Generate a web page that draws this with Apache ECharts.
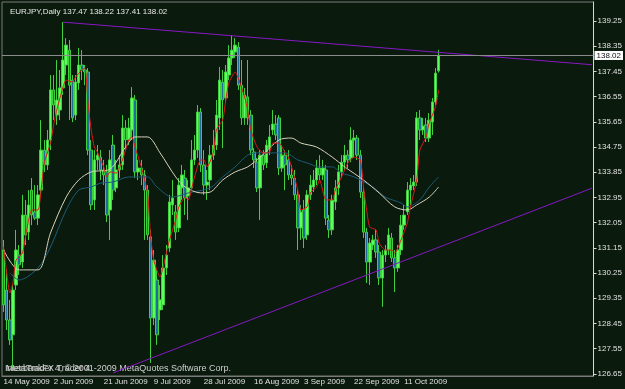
<!DOCTYPE html>
<html>
<head>
<meta charset="utf-8">
<script src="https://cdn.jsdelivr.net/npm/echarts@6/dist/echarts.min.js"></script>
<style>
html, body { margin: 0; padding: 0; background: #0a1a0d; }
#chart { width: 625px; height: 389px; }
</style>
</head>
<body>
<div id="chart"></div>
<script>
var symbolName = 'EURJPY,Daily';
var lastBar = [137.47, 138.22, 137.41, 138.02]; // open high low close
var currentPrice = 138.02;

var dateLabels = ['14 May 2009', '2 Jun 2009', '21 Jun 2009', '9 Jul 2009', '28 Jul 2009',
    '16 Aug 2009', '3 Sep 2009', '22 Sep 2009', '11 Oct 2009'];
var labelStep = 16;
var totalSlots = 189;

var priceTicks = [126.65, 127.55, 128.45, 129.35, 130.25, 131.15, 132.05, 132.95,
    133.85, 134.75, 135.65, 136.55, 137.45, 138.35, 139.25];

// [open, close, low, high]
var candles = [
    [131.07, 129.11, 128.86, 131.43], [129.64, 128.57, 128.21, 130.36], [128.57, 127.86, 127.68, 129.29],
    [128.04, 129.64, 126.89, 129.82], [129.82, 131.07, 129.64, 131.79], [130.89, 130.54, 130.18, 131.25],
    [130.64, 132.32, 130.43, 133.04], [132.32, 131.61, 131.25, 132.86], [131.71, 132.68, 131.43, 133.21],
    [133.21, 132.32, 131.96, 133.64], [132.43, 132.21, 132.14, 133.39], [132.21, 133.04, 131.96, 133.39],
    [133.21, 134.64, 133.04, 135.71], [134.64, 134.11, 133.86, 135.00], [134.11, 135.00, 133.93, 135.36],
    [135.00, 136.79, 134.64, 137.32], [136.79, 136.25, 135.71, 137.32], [135.89, 136.43, 135.54, 137.86],
    [136.07, 136.86, 135.71, 137.50], [136.86, 137.86, 136.61, 139.21], [137.68, 138.39, 137.32, 138.64],
    [138.21, 136.96, 135.71, 138.57], [137.14, 135.79, 135.64, 137.32], [135.89, 137.07, 135.71, 137.32],
    [137.04, 137.68, 136.79, 138.29], [137.68, 137.50, 137.14, 138.21], [137.50, 137.43, 136.96, 137.68],
    [137.43, 134.64, 134.46, 137.57], [134.64, 132.68, 132.50, 135.00], [132.86, 134.29, 132.50, 134.64],
    [134.29, 134.46, 133.93, 134.82], [134.39, 133.93, 133.57, 134.64], [133.93, 133.75, 133.39, 134.29],
    [133.86, 132.32, 132.07, 134.11], [132.50, 134.29, 131.43, 134.64], [134.82, 133.21, 132.86, 135.18],
    [133.29, 133.93, 133.14, 134.29], [133.93, 134.11, 133.64, 134.46], [134.11, 135.43, 133.93, 135.89],
    [135.43, 135.00, 134.64, 135.71], [135.00, 135.43, 134.82, 135.79], [135.36, 136.50, 135.00, 136.89],
    [136.43, 133.86, 133.64, 136.61], [133.86, 134.00, 133.57, 134.29], [134.00, 133.75, 133.39, 134.29],
    [133.75, 133.21, 131.43, 133.93], [133.21, 131.61, 131.43, 133.39], [131.54, 128.64, 127.04, 131.79],
    [128.64, 130.71, 128.39, 131.07], [130.00, 128.04, 127.68, 130.36], [128.93, 129.29, 128.57, 129.82],
    [129.11, 130.43, 128.93, 130.89], [130.43, 130.89, 130.18, 131.25], [131.14, 132.79, 131.00, 133.04],
    [132.68, 132.93, 132.32, 133.57], [132.43, 131.71, 131.43, 132.68], [131.86, 133.39, 131.71, 133.64],
    [133.29, 133.75, 132.86, 134.11], [133.64, 132.93, 132.32, 133.93], [133.00, 133.29, 132.14, 133.57],
    [133.29, 134.29, 133.21, 135.00], [134.29, 134.64, 134.11, 135.18], [134.64, 136.00, 134.36, 136.25],
    [136.00, 134.11, 133.86, 136.14], [134.11, 133.39, 133.04, 134.64], [133.39, 133.50, 132.86, 133.93],
    [133.57, 134.46, 133.21, 134.82], [134.46, 134.82, 134.29, 135.36], [134.82, 135.89, 134.64, 136.43],
    [135.79, 137.14, 135.36, 137.61], [137.07, 136.43, 134.71, 137.50], [136.50, 137.43, 136.36, 137.68],
    [137.32, 137.93, 137.14, 138.39], [137.93, 138.21, 137.68, 138.75], [138.14, 138.39, 137.93, 138.64],
    [138.32, 136.96, 136.79, 138.50], [136.96, 135.79, 135.54, 137.86], [135.79, 136.61, 135.54, 136.86],
    [136.54, 135.79, 135.54, 137.86], [135.89, 134.64, 134.46, 136.07], [134.57, 134.29, 134.00, 134.71],
    [134.21, 133.29, 133.14, 134.36], [133.29, 134.46, 132.14, 134.64], [134.46, 134.11, 133.93, 134.64],
    [134.18, 134.82, 134.00, 135.00], [134.71, 135.11, 134.46, 135.54], [135.36, 135.57, 135.18, 136.07],
    [135.57, 135.18, 135.00, 135.89], [135.79, 134.00, 133.75, 135.89], [134.00, 134.46, 133.86, 134.82],
    [134.46, 134.11, 133.21, 134.64], [134.29, 133.75, 133.57, 134.64], [133.75, 133.64, 133.39, 134.11],
    [133.64, 133.04, 132.86, 133.93], [133.04, 131.86, 131.07, 133.21], [131.86, 132.43, 131.43, 132.68],
    [132.50, 131.50, 131.14, 132.86], [131.61, 133.04, 131.43, 133.21], [133.04, 133.39, 132.86, 133.75],
    [133.32, 133.57, 133.14, 133.93], [133.57, 134.00, 133.39, 134.29], [134.00, 133.75, 133.57, 134.46],
    [133.75, 134.00, 133.57, 134.29], [133.93, 132.21, 131.96, 134.11], [132.14, 131.79, 131.50, 132.32],
    [131.79, 132.86, 131.61, 133.04], [132.79, 133.29, 132.50, 133.57], [133.29, 133.86, 133.04, 134.11],
    [133.86, 134.21, 133.64, 134.46], [134.21, 134.46, 133.93, 134.82], [134.46, 134.29, 134.00, 134.64],
    [134.36, 135.00, 134.21, 135.46], [135.00, 135.07, 134.36, 135.36], [135.07, 134.46, 134.29, 135.18],
    [134.46, 133.14, 132.93, 134.64], [133.14, 131.71, 131.50, 133.29], [131.71, 130.64, 129.89, 131.86],
    [130.64, 131.32, 129.82, 131.50], [131.25, 131.43, 131.07, 131.61], [131.43, 131.00, 130.79, 131.79],
    [131.00, 130.07, 129.82, 131.25], [130.07, 130.89, 129.04, 131.07], [130.89, 131.07, 130.64, 131.25],
    [131.07, 131.61, 130.89, 131.86], [131.50, 130.79, 130.64, 131.68], [130.79, 130.43, 129.57, 131.07],
    [130.43, 131.07, 130.29, 131.25], [131.07, 131.96, 130.89, 132.32], [131.96, 132.32, 131.79, 132.68],
    [132.43, 133.21, 132.32, 133.50], [133.21, 133.39, 132.68, 133.64], [133.36, 133.50, 133.21, 133.75],
    [133.50, 135.79, 133.36, 136.00], [135.79, 135.36, 135.00, 136.07], [135.36, 135.50, 135.18, 135.79],
    [135.54, 135.07, 134.93, 135.79], [135.07, 135.71, 134.93, 135.96], [135.64, 136.36, 135.18, 136.50],
    [136.36, 137.39, 136.25, 137.57], [137.47, 138.02, 137.41, 138.22]
];

// moving averages: [bar index, price]
var maFast = [[0, 131.18], [1, 130.25], [2, 129.54], [3, 129.89], [4, 130.71], [6, 130.96], [7, 131.54],
    [8, 132.14], [9, 132.50], [11, 132.50], [12, 133.21], [13, 134.18], [15, 134.89], [16, 135.54],
    [17, 136.07], [19, 136.89], [20, 137.14], [22, 137.07], [23, 137.25], [25, 137.50], [26, 137.57],
    [27, 136.32], [28, 135.36], [29, 134.75], [30, 134.57], [31, 134.29], [32, 134.04], [33, 133.68],
    [34, 133.86], [36, 133.82], [38, 134.29], [40, 135.00], [41, 135.11], [42, 134.75], [44, 134.04],
    [46, 133.11], [47, 131.54], [48, 130.71], [50, 130.11], [51, 130.46], [53, 131.43], [55, 132.14],
    [56, 132.61], [58, 132.96], [59, 132.86], [61, 133.68], [63, 134.29], [64, 134.29], [65, 134.04],
    [67, 134.54], [68, 135.36], [70, 135.71], [71, 136.43], [72, 137.04], [74, 137.43], [75, 137.21],
    [77, 136.54], [78, 136.07], [79, 135.36], [81, 134.75], [83, 134.54], [85, 134.57], [86, 134.89],
    [88, 134.89], [90, 134.54], [91, 134.39], [92, 134.04], [94, 133.21], [95, 132.50], [97, 132.61],
    [98, 133.11], [100, 133.32], [101, 133.57], [103, 132.86], [105, 132.86], [106, 133.21], [108, 133.68],
    [110, 134.18], [112, 134.39], [114, 134.29], [115, 133.32], [116, 132.50], [117, 131.89], [119, 131.79],
    [120, 131.32], [122, 131.07], [124, 131.07], [125, 130.96], [127, 131.43], [129, 132.04], [130, 132.61],
    [132, 133.57], [133, 134.64], [135, 135.11], [136, 135.61], [138, 136.18], [139, 136.79]];

var maSlow = [[0, 131.07], [5, 130.36], [11, 130.36], [15, 131.68], [20, 132.96], [24, 133.57],
    [28, 133.86], [34, 133.96], [39, 134.75], [42, 135.11], [46, 135.11], [50, 134.54], [55, 133.68],
    [58, 133.32], [63, 133.11], [66, 133.14], [70, 133.57], [74, 133.86], [78, 134.04], [82, 134.39],
    [88, 135.00], [92, 135.07], [95, 134.89], [100, 134.75], [105, 134.39], [109, 134.04], [115, 133.57],
    [120, 133.11], [125, 132.61], [129, 132.50], [132, 132.68], [136, 132.96], [139, 133.32]];

var maLong = [[2, 130.25], [5, 130.00], [11, 130.43], [15, 131.18], [20, 132.50], [24, 133.21],
    [28, 133.32], [31, 133.46], [35, 133.50], [40, 133.68], [46, 133.68], [49, 133.32], [54, 132.96],
    [59, 133.11], [66, 133.29], [70, 133.68], [74, 134.04], [78, 134.46], [81, 134.54], [85, 134.54],
    [90, 134.54], [94, 134.29], [97, 134.18], [101, 134.04], [105, 134.04], [108, 133.82], [112, 133.68],
    [118, 133.32], [122, 132.96], [127, 132.75], [129, 132.61], [133, 132.86], [136, 133.32], [139, 133.68]];

var trendTop = [[19, 139.21], [188, 137.69]];
var trendBottom = [[35, 126.68], [188, 133.28]];

var slots = [];
for (var i = 0; i < totalSlots; i++) {
    slots.push(String(i));
}

function showSlot(index) {
    return index % labelStep === 0 && index / labelStep < dateLabels.length;
}

var font = "'Liberation Sans', sans-serif";
var chart = echarts.init(document.getElementById('chart'));

var option = {
    animation: false,
    backgroundColor: '#0a1a0d',
    title: {
        text: symbolName + ' ' + lastBar.join(' '),
        left: 5,
        top: 3,
        textStyle: { color: '#e8e8e8', fontSize: 8, fontWeight: 'normal', fontFamily: font }
    },
    grid: {
        left: 2, right: 29, top: 2, bottom: 13,
        show: true,
        borderColor: '#7a7a7a',
        borderWidth: 1,
        backgroundColor: '#0a1a0d'
    },
    xAxis: {
        type: 'category',
        data: slots,
        boundaryGap: true,
        axisLine: { lineStyle: { color: '#7a7a7a' } },
        axisTick: {
            alignWithLabel: true,
            length: 3,
            interval: function (index) { return showSlot(index); },
            lineStyle: { color: '#c8c8c8' }
        },
        axisLabel: {
            interval: function (index) { return showSlot(index); },
            formatter: function (v, index) { return dateLabels[index / labelStep]; },
            align: 'left',
            margin: 2,
            color: '#e0e0e0',
            fontSize: 8,
            fontFamily: font
        },
        splitLine: { show: false }
    },
    yAxis: {
        type: 'value',
        position: 'right',
        min: 126.57,
        max: 139.93,
        axisLine: { show: true, lineStyle: { color: '#d8d8d8' } },
        axisTick: { show: true, length: 3, customValues: priceTicks, lineStyle: { color: '#d8d8d8' } },
        axisLabel: {
            customValues: priceTicks,
            formatter: function (v) { return v.toFixed(2); },
            margin: 4,
            color: '#e0e0e0',
            fontSize: 8,
            fontFamily: font
        },
        splitLine: { show: false }
    },
    graphic: [
        { type: 'text', left: 5, top: 364, style: { text: 'InterbankFX Trader 4', fill: '#cfcfcf', font: '9px ' + font } },
        { type: 'text', left: 6, top: 364, style: { text: 'MetaTrader 4, \u00a9 2001-2009 MetaQuotes Software Corp.', fill: '#cfcfcf', font: '9px ' + font } }
    ],
    series: [
        {
            type: 'candlestick',
            data: candles,
            barWidth: 3,
            itemStyle: {
                color: '#5cff5c',
                color0: '#1f6e99',
                borderColor: '#3fcf3f',
                borderColor0: '#3fcf3f',
                borderWidth: 1
            },
            markLine: {
                silent: true,
                symbol: 'none',
                animation: false,
                data: [
                    [
                        { coord: trendTop[0], lineStyle: { color: '#8518c4', width: 1, type: 'solid' }, label: { show: false } },
                        { coord: trendTop[1] }
                    ],
                    [
                        { coord: trendBottom[0], lineStyle: { color: '#8518c4', width: 1, type: 'solid' }, label: { show: false } },
                        { coord: trendBottom[1] }
                    ],
                    {
                        yAxis: currentPrice,
                        lineStyle: { color: '#8c8c8c', width: 1, type: 'solid' },
                        label: {
                            show: true,
                            position: 'end',
                            distance: 1,
                            formatter: currentPrice.toFixed(2),
                            backgroundColor: '#ffffff',
                            color: '#101010',
                            fontSize: 8,
                            fontFamily: font,
                            padding: [1, 2, 0, 2]
                        }
                    }
                ]
            }
        },
        {
            type: 'line', data: maLong, showSymbol: false, smooth: 0.3,
            lineStyle: { color: '#1d5b78', width: 1 }, z: 3
        },
        {
            type: 'line', data: maSlow, showSymbol: false, smooth: 0.3,
            lineStyle: { color: '#d9d2bd', width: 1 }, z: 4
        },
        {
            type: 'line', data: maFast, showSymbol: false, smooth: 0.2,
            lineStyle: { color: '#e01818', width: 1 }, z: 5
        }
    ]
};

chart.setOption(option);
window.addEventListener('resize', chart.resize);
</script>
</body>
</html>
